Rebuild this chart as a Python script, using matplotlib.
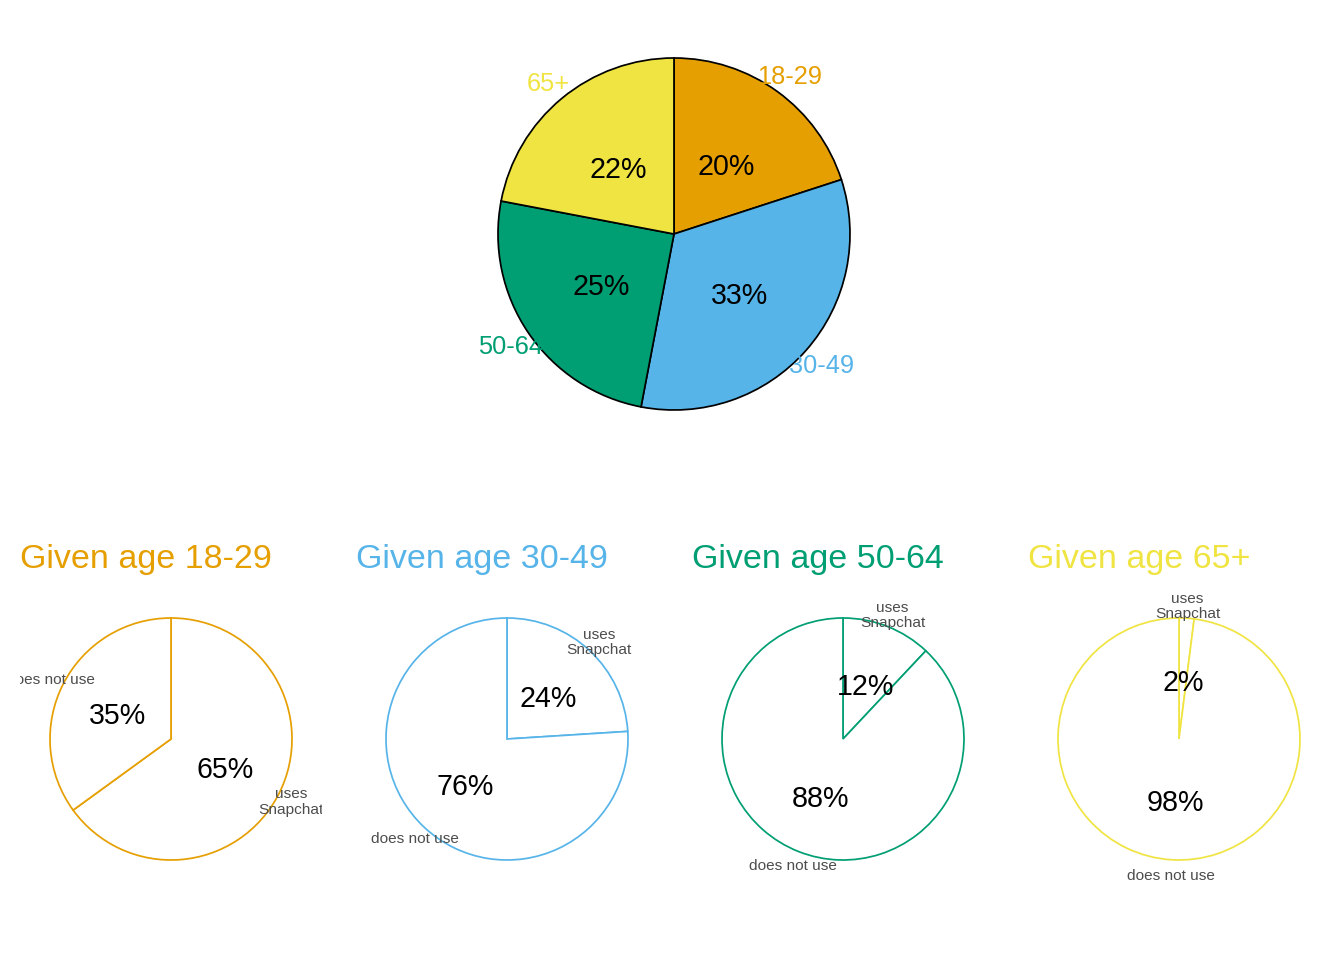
import matplotlib
matplotlib.use("Agg")
import matplotlib.pyplot as plt

plt.rcParams['font.family'] = ['Liberation Sans', 'DejaVu Sans']

# data
ages = ['18-29', '30-49', '50-64', '65+']
age_share = [20, 33, 25, 22]
uses_snap = [65, 24, 12, 2]
not_use = [35, 76, 88, 98]
use_labels = ['uses\nSnapchat', 'does not use']
colors = ['#E69F00', '#56B4E9', '#009E73', '#F0E442']

W, H = 1344, 960
fig = plt.figure(figsize=(W / 96, H / 96), dpi=96)


def add_px_axes(left, top, width, height):
    return fig.add_axes([left / W, 1 - (top + height) / H, width / W, height / H])


def set_limits(ax, width, height, radius):
    ax.set_aspect('auto')
    ax.set_xlim(-width / 2 / radius, width / 2 / radius)
    ax.set_ylim(-height / 2 / radius, height / 2 / radius)
    ax.axis('off')


def nudge(t, px, radius):
    x, y = t.get_position()
    t.set_position((x, y - px / radius))


# top pie: share of each age group
ax = add_px_axes(374, 0, 600, 468)
wedges, texts, autotexts = ax.pie(
    age_share, labels=ages, colors=colors, startangle=90, counterclock=False,
    labeldistance=1.12, autopct='%.0f%%', pctdistance=0.5,
    wedgeprops=dict(edgecolor='black', linewidth=1.3),
    textprops=dict(fontsize=19),
)
for t, c in zip(texts, colors):
    t.set_color(c)
    t.set_ha('center')
    nudge(t, 2, 176)
for t in autotexts:
    t.set_fontsize(21.5)
    t.set_color('black')
    nudge(t, 4, 176)
set_limits(ax, 600, 468, 176)

# bottom pies: Snapchat use given age
for i in range(4):
    left = 20 + 336 * i
    ax = add_px_axes(left, 585, 302, 308)
    vals = [uses_snap[i], not_use[i]]
    wedges, texts, autotexts = ax.pie(
        vals, labels=use_labels, colors=['white', 'white'], startangle=90,
        counterclock=False, labeldistance=1.115, autopct='%.0f%%', pctdistance=0.5,
        wedgeprops=dict(edgecolor=colors[i], linewidth=1.3),
        textprops=dict(fontsize=11.5, color='#4D4D4D'),
    )
    for t in texts:
        t.set_ha('center')
        t.set_linespacing(1.15)
        t.set_clip_on(True)
        nudge(t, 2, 121)
    for t in autotexts:
        t.set_fontsize(21.5)
        t.set_color('black')
        nudge(t, 4, 121)
    set_limits(ax, 302, 308, 121)
    ax.text(0, 1 + 17 / 308, 'Given age ' + ages[i], transform=ax.transAxes,
            ha='left', va='baseline', fontsize=25.5, color=colors[i], clip_on=False)

fig.savefig('out.png', dpi=96)
